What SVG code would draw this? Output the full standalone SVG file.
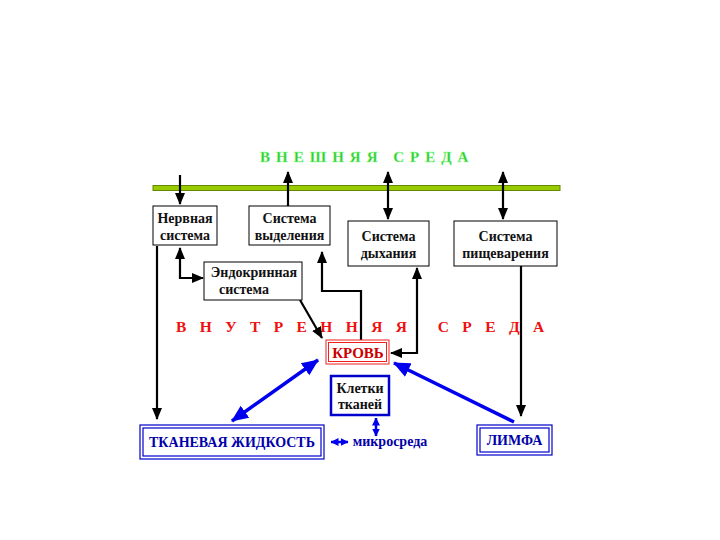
<svg xmlns="http://www.w3.org/2000/svg" width="720" height="540" viewBox="0 0 720 540">
<defs>
<marker id="ah" markerUnits="userSpaceOnUse" markerWidth="12" markerHeight="12" viewBox="0 0 12 12" refX="11" refY="6" orient="auto-start-reverse"><path d="M0,1 L12,6 L0,11 Z" fill="#000"/></marker>
<marker id="bh" markerUnits="userSpaceOnUse" markerWidth="17" markerHeight="17" viewBox="0 0 16 16" refX="15" refY="8" orient="auto-start-reverse"><path d="M0,1 L16,8 L0,15 Z" fill="#0000ee"/></marker>
<marker id="sh" markerUnits="userSpaceOnUse" markerWidth="8" markerHeight="8" viewBox="0 0 8 8" refX="7.5" refY="4" orient="auto-start-reverse"><path d="M0,0 L8,4 L0,8 Z" fill="#0000ee"/></marker>
</defs>
<style>
text{font-family:"Liberation Serif","Times New Roman",serif;font-weight:bold}
.box{fill:#fff;stroke:#000;stroke-width:1}
.t{font-size:14px;fill:#111;text-anchor:middle}
.ln{fill:none;stroke:#000;stroke-width:2.2}
.bl{fill:none;stroke:#0000ee;stroke-width:3.5}
.blt{fill:#0000aa;font-size:14px;text-anchor:middle}
</style>
<rect width="720" height="540" fill="#fff"/>
<g id="outer-label"><text x="260" y="162" font-size="15" fill="#33cc33" letter-spacing="6" style="stroke:#99ff99;stroke-width:0.4">ВНЕШНЯЯ  СРЕДА</text></g>
<g id="boundary"><rect x="153" y="185.5" width="407" height="5" fill="#99cc00" stroke="#668800" stroke-width="1"/></g>
<g id="inner-label"><text x="176" y="332" font-size="15.5" fill="#ee1111" letter-spacing="13.4">ВНУТРЕННЯЯ  СРЕДА</text></g>
<g id="connectors">
<line class="ln" x1="180" y1="175" x2="180" y2="204" marker-end="url(#ah)"/>
<line class="ln" x1="288" y1="206" x2="288" y2="172" marker-end="url(#ah)"/>
<line class="ln" x1="388" y1="172" x2="388" y2="219" marker-start="url(#ah)" marker-end="url(#ah)"/>
<line class="ln" x1="503" y1="172" x2="503" y2="219" marker-start="url(#ah)" marker-end="url(#ah)"/>
<path class="ln" d="M180,248 V278 H203" marker-start="url(#ah)" marker-end="url(#ah)"/>
<path class="ln" d="M157,246 V419" marker-end="url(#ah)"/>
<path class="ln" d="M300,300 L322,338" marker-end="url(#ah)"/>
<path class="ln" d="M361,340 V291 H322 V252" marker-end="url(#ah)"/>
<path class="ln" d="M417,268 V353 H391" marker-start="url(#ah)" marker-end="url(#ah)"/>
<path class="ln" d="M521,266 V416" marker-end="url(#ah)"/>
<path class="bl" d="M318,360 L232,421" marker-start="url(#bh)" marker-end="url(#bh)"/>
<path class="bl" d="M514,422 L394,363" marker-end="url(#bh)"/>
<path fill="none" stroke="#0000ee" stroke-width="2.5" d="M376,418 V436" marker-start="url(#sh)" marker-end="url(#sh)"/>
<path fill="none" stroke="#0000ee" stroke-width="2.5" d="M331,442 H348" marker-start="url(#sh)" marker-end="url(#sh)"/>
</g>
<g id="nervous"><rect class="box" x="153" y="206" width="64" height="39"/><text class="t" x="185" y="223">Нервная</text><text class="t" x="185" y="240">система</text></g>
<g id="excretion"><rect class="box" x="249" y="206" width="81" height="39"/><text class="t" x="289.5" y="223">Система</text><text class="t" x="289.5" y="240">выделения</text></g>
<g id="endocrine"><rect class="box" x="204" y="262" width="98" height="38"/><text class="t" x="254" y="277">Эндокринная</text><text class="t" x="244" y="294">система</text></g>
<g id="respiration"><rect class="box" x="348" y="221" width="81" height="45"/><text class="t" x="388.5" y="241">Система</text><text class="t" x="388.5" y="258">дыхания</text></g>
<g id="digestion"><rect class="box" x="454" y="221" width="103" height="45"/><text class="t" x="505.5" y="241">Система</text><text class="t" x="505.5" y="258">пищеварения</text></g>
<g id="blood"><rect x="326" y="340" width="63" height="24" fill="#fff" stroke="#ee2222" stroke-width="1"/><rect x="328.5" y="342.5" width="58" height="19" fill="none" stroke="#ee2222" stroke-width="1"/><text x="358" y="357.5" font-size="15" fill="#cc0000" text-anchor="middle">КРОВЬ</text></g>
<g id="cells"><rect x="331" y="376" width="58" height="39" fill="#fff" stroke="#0000cc" stroke-width="2.5"/><text class="t" x="360" y="393">Клетки</text><text class="t" x="360" y="409">тканей</text></g>
<g id="tissue-fluid"><rect x="140" y="425" width="184" height="34" fill="#fff" stroke="#0000cc" stroke-width="1.2"/><rect x="143" y="428" width="178" height="28" fill="none" stroke="#0000cc" stroke-width="1.2"/><text class="blt" x="232" y="447">ТКАНЕВАЯ ЖИДКОСТЬ</text></g>
<g id="lymph"><rect x="477" y="425" width="75" height="30" fill="#fff" stroke="#0000cc" stroke-width="1.2"/><rect x="480" y="428" width="69" height="24" fill="none" stroke="#0000cc" stroke-width="1.2"/><text class="blt" x="514.5" y="445">ЛИМФА</text></g>
<g id="micro"><text x="390" y="446" font-size="14" fill="#0000aa" text-anchor="middle">микросреда</text></g>
</svg>
